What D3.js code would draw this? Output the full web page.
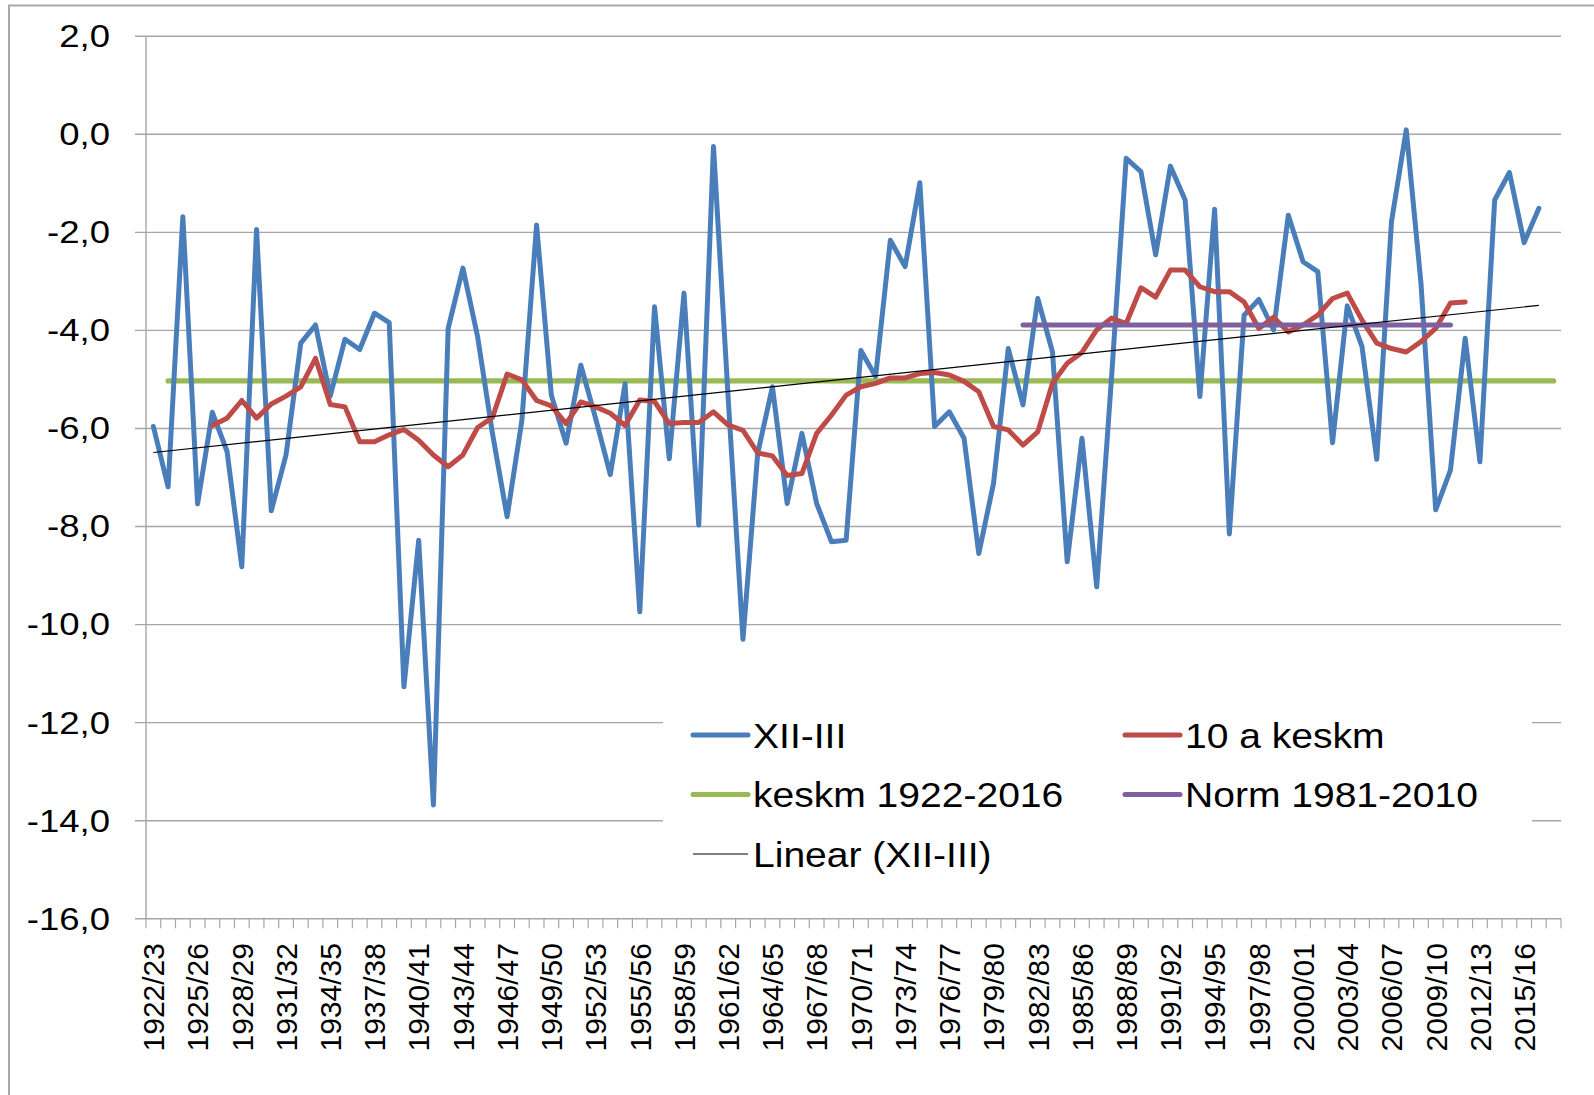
<!DOCTYPE html>
<html>
<head>
<meta charset="utf-8">
<script src="https://cdn.jsdelivr.net/npm/d3@7"></script>
<style>
  body { margin: 0; background: #fff; }
  text { font-family: "Liberation Sans", Arial, sans-serif; fill: #000; }
</style>
</head>
<body>
<div id="chart"></div>
<script>
// seasons 1922/23 ... 2017/18
var seasons = d3.range(1922, 2018).map(function (y) {
  return y + "/" + String(y + 1).slice(2);
});

// XII-III mean temperature, from 1922/23
var winterTemp = [
  -5.97, -7.2, -1.69, -7.55, -5.68, -6.48, -8.83, -1.95, -7.69, -6.55,
  -4.27, -3.9, -5.35, -4.19, -4.4, -3.66, -3.85, -11.28, -8.29, -13.69,
  -3.97, -2.74, -4.14, -6.1, -7.81, -5.85, -1.86, -5.33, -6.31, -4.72,
  -5.8, -6.95, -5.1, -9.75, -3.53, -6.63, -3.25, -7.98, -0.26, -5.4,
  -10.31, -6.52, -5.16, -7.54, -6.11, -7.54, -8.32, -8.29, -4.42, -4.95,
  -2.17, -2.71, -1.0, -5.97, -5.67, -6.21, -8.56, -7.13, -4.38, -5.53,
  -3.36, -4.45, -8.73, -6.21, -9.24, -5.0, -0.5, -0.77, -2.47, -0.66,
  -1.35, -5.36, -1.54, -8.16, -3.7, -3.38, -4.0, -1.66, -2.61, -2.81,
  -6.3, -3.51, -4.34, -6.64, -1.79, 0.08, -3.05, -7.67, -6.86, -4.17,
  -6.69, -1.35, -0.79, -2.22, -1.52
];

// 10 a keskm, from 1926/27
var movingAvgStart = 4;
var movingAvg = [
  -5.95, -5.8, -5.44, -5.8, -5.51, -5.35, -5.16, -4.58, -5.52, -5.57,
  -6.28, -6.28, -6.14, -6.03, -6.25, -6.55, -6.79, -6.55, -5.99, -5.79,
  -4.9, -5.02, -5.44, -5.55, -5.91, -5.47, -5.57, -5.7, -5.95, -5.43,
  -5.46, -5.91, -5.89, -5.89, -5.67, -5.94, -6.05, -6.51, -6.57, -6.97,
  -6.93, -6.11, -5.74, -5.33, -5.16, -5.09, -4.98, -4.98, -4.89, -4.87,
  -4.92, -5.05, -5.26, -5.97, -6.04, -6.35, -6.08, -5.09, -4.68, -4.46,
  -4.0, -3.76, -3.87, -3.14, -3.33, -2.78, -2.78, -3.12, -3.22, -3.22,
  -3.43, -3.97, -3.74, -4.04, -3.9, -3.7, -3.36, -3.25, -3.8, -4.27,
  -4.38, -4.45, -4.24, -3.97, -3.45, -3.43
];

var longMean = -5.04;      // keskm 1922-2016
var longMeanRange = [1, 95];
var norm = -3.9;           // Norm 1981-2010
var normRange = [59, 88];
var trendEnds = [-6.5, -3.5]; // Linear (XII-III), first and last season
var trendRange = [0, 94];

var yTicks = [2, 0, -2, -4, -6, -8, -10, -12, -14, -16];

var legendItems = [
  { name: "XII-III", color: "#4a7ebb", width: 5, col: 0, row: 0 },
  { name: "10 a keskm", color: "#be4b48", width: 5, col: 1, row: 0 },
  { name: "keskm 1922-2016", color: "#98b954", width: 5, col: 0, row: 1 },
  { name: "Norm 1981-2010", color: "#7d60a0", width: 5, col: 1, row: 1 },
  { name: "Linear (XII-III)", color: "#000", width: 1.2, col: 0, row: 2 }
];

var W = 1594, H = 1095;
var plotLeft = 146, plotRight = 1561, plotTop = 35.7, plotBottom = 918.3;

var svg = d3.select("#chart").append("svg")
  .attr("width", W)
  .attr("height", H);

// outer frame
svg.append("path")
  .attr("d", "M9," + H + "V5.5H" + W)
  .attr("fill", "none")
  .attr("stroke", "#a9a9a9")
  .attr("stroke-width", 2);

var x = d3.scaleBand().domain(seasons).range([plotLeft, plotRight]).padding(0);
var y = d3.scaleLinear().domain([-16, 2]).range([plotBottom, plotTop]);
var bw = x.bandwidth();
function cx(i) { return x(seasons[i]) + bw / 2; }

// gridlines
svg.append("g")
  .attr("transform", "translate(135,0)")
  .call(d3.axisRight(y).tickValues(yTicks).tickSize(plotRight - 135).tickFormat(""))
  .call(function (g) { g.select(".domain").remove(); })
  .selectAll("line")
  .attr("stroke", "#a6a6a6")
  .attr("stroke-width", 1.4);

// y axis line
svg.append("line")
  .attr("x1", plotLeft).attr("x2", plotLeft)
  .attr("y1", plotTop).attr("y2", plotBottom)
  .attr("stroke", "#a6a6a6")
  .attr("stroke-width", 1.4);

// y labels
svg.append("g").selectAll("text")
  .data(yTicks)
  .enter()
  .append("text")
  .attr("transform", function (d) { return "translate(110," + y(d) + ") scale(1.16,1)"; })
  .attr("text-anchor", "end")
  .attr("dy", "0.36em")
  .style("font-size", "31.5px")
  .text(function (d) { return d3.format(".1f")(d).replace(".", ",").replace("−", "-"); });

// x axis ticks between categories
var tickPos = seasons.map(function (s) { return x(s); }).concat([plotRight]);
svg.append("g").selectAll("line")
  .data(tickPos)
  .enter()
  .append("line")
  .attr("x1", function (d) { return d; })
  .attr("x2", function (d) { return d; })
  .attr("y1", plotBottom)
  .attr("y2", plotBottom + 10)
  .attr("stroke", "#a6a6a6")
  .attr("stroke-width", 1.2);

// x labels, every third season
svg.append("g").selectAll("text")
  .data(seasons.filter(function (s, i) { return i % 3 === 0; }))
  .enter()
  .append("text")
  .attr("transform", function (d) { return "translate(" + (x(d) + bw / 2) + ",943) rotate(-90)"; })
  .attr("text-anchor", "end")
  .attr("dy", "0.36em")
  .style("font-size", "30px")
  .text(function (d) { return d; });

var line = d3.line()
  .x(function (d) { return cx(d.i); })
  .y(function (d) { return y(d.v); });

function flat(v, range) {
  return [{ i: range[0], v: v }, { i: range[1], v: v }];
}

// keskm 1922-2016
svg.append("path")
  .datum(flat(longMean, longMeanRange))
  .attr("d", line)
  .attr("fill", "none")
  .attr("stroke", "#98b954")
  .attr("stroke-width", 5.2)
  .attr("stroke-linecap", "round");

// XII-III
svg.append("path")
  .datum(winterTemp.map(function (v, i) { return { i: i, v: v }; }))
  .attr("d", line)
  .attr("fill", "none")
  .attr("stroke", "#4a7ebb")
  .attr("stroke-width", 5)
  .attr("stroke-linejoin", "round")
  .attr("stroke-linecap", "round");

// 10 a keskm
svg.append("path")
  .datum(movingAvg.map(function (v, i) { return { i: i + movingAvgStart, v: v }; }))
  .attr("d", line)
  .attr("fill", "none")
  .attr("stroke", "#be4b48")
  .attr("stroke-width", 5)
  .attr("stroke-linejoin", "round")
  .attr("stroke-linecap", "round");

// Norm 1981-2010
svg.append("path")
  .datum(flat(norm, normRange))
  .attr("d", line)
  .attr("fill", "none")
  .attr("stroke", "#7d60a0")
  .attr("stroke-width", 5)
  .attr("stroke-linecap", "round");

// Linear trend
svg.append("path")
  .datum([{ i: trendRange[0], v: trendEnds[0] }, { i: trendRange[1], v: trendEnds[1] }])
  .attr("d", line)
  .attr("fill", "none")
  .attr("stroke", "#000")
  .attr("stroke-width", 1.2);

// legend
var legend = svg.append("g");
legend.append("rect")
  .attr("x", 663).attr("y", 664)
  .attr("width", 1532 - 663).attr("height", 232)
  .attr("fill", "#fff");

var item = legend.selectAll("g.item")
  .data(legendItems)
  .enter()
  .append("g")
  .attr("class", "item")
  .attr("transform", function (d) {
    return "translate(" + (693 + d.col * 432) + "," + (735 + d.row * 59.5) + ")";
  });

item.append("line")
  .attr("x1", 0).attr("x2", 55)
  .attr("stroke", function (d) { return d.color; })
  .attr("stroke-width", function (d) { return d.width; })
  .attr("stroke-linecap", function (d) { return d.width > 2 ? "round" : "butt"; });

item.append("text")
  .attr("transform", "translate(60,0) scale(1.1,1)")
  .attr("dy", "0.36em")
  .style("font-size", "35.5px")
  .text(function (d) { return d.name; });
</script>
</body>
</html>
